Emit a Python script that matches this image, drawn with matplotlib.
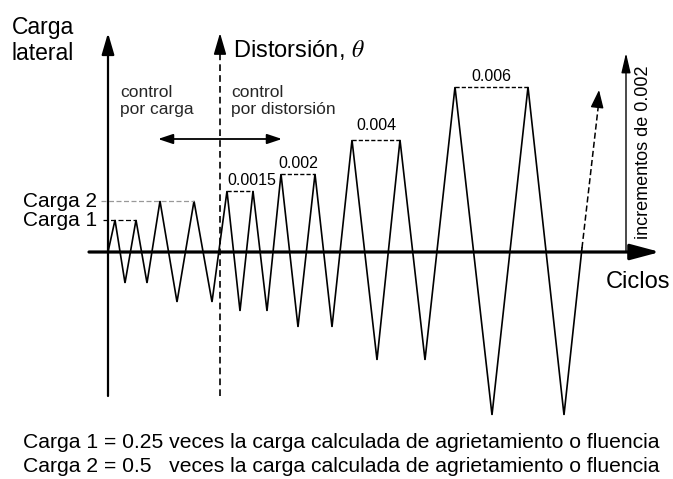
import matplotlib
matplotlib.use('Agg')
from matplotlib import pyplot as plt
from matplotlib.patches import FancyArrowPatch

plt.rcParams['font.family'] = ['Liberation Sans', 'DejaVu Sans']
plt.rcParams['mathtext.fontset'] = 'stix'

# loading history: vertex positions along the "Ciclos" axis
# and the lateral load / drift amplitude at each vertex (same arbitrary units)
wave_x = [0, 7, 17, 28, 39, 52, 69, 86, 104, 119, 132, 145, 159,
          173, 190, 207, 224, 244, 269, 292, 317, 347, 384, 420, 456, 474]
wave_y = [0, 32, -31, 32, -31, 51, -50, 51, -50, 61, -59, 61, -59,
          78, -75, 78, -75, 112, -108, 112, -108, 165, -163, 165, -163, 4]
next_cycle_tip = (491, 162)

# pairs of peaks (indices into wave_*) that share a target level
load_names = ['Carga 1', 'Carga 2']
load_peaks = [(1, 3), (5, 7)]
drift_names = ['0.0015', '0.002', '0.004', '0.006']
drift_peaks = [(9, 11), (13, 15), (17, 19), (21, 23)]

notes = ['Carga 1 = 0.25 veces la carga calculada de agrietamiento o fluencia',
         'Carga 2 = 0.5   veces la carga calculada de agrietamiento o fluencia']

fig = plt.figure(figsize=(6.73, 4.79), dpi=100)
ax = fig.add_axes([0, 0, 1, 1])
ax.set_xlim(-108, 565)
ax.set_ylim(-227, 252)
ax.axis('off')


def arrow(p0, p1, lw=1.5, hl=0.6, hw=0.2, style='-|>', ls='-'):
    a = FancyArrowPatch(p0, p1, arrowstyle='%s,head_length=%s,head_width=%s' % (style, hl, hw),
                        mutation_scale=20, shrinkA=0, shrinkB=0, color='k',
                        lw=lw, linestyle=ls)
    ax.add_patch(a)


# axes of the diagram
arrow((-19, 0), (552, 0), lw=2.3, hl=0.9, hw=0.24)
arrow((0, -144), (0, 219), lw=1.6, hl=0.65, hw=0.19)
ax.plot([112, 112], [-144, 205], color='k', lw=1.2, ls=(0, (4, 2.5)))
arrow((112, 200), (112, 219), lw=1.2, hl=0.65, hw=0.19)
arrow((518, 0), (518, 199), lw=1.0, hl=0.6, hw=0.14)
arrow((50, 113), (174, 113), lw=1.3, hl=0.45, hw=0.15, style='<|-|>')

# loading history
ax.plot(wave_x, wave_y, color='k', lw=1.2, solid_joinstyle='miter')
ax.plot([wave_x[-1], next_cycle_tip[0]], [wave_y[-1], next_cycle_tip[1] - 10],
        color='k', lw=1.1, ls=(0, (4, 2)))
arrow((next_cycle_tip[0] - 1.5, next_cycle_tip[1] - 14), next_cycle_tip,
      lw=1.0, hl=0.55, hw=0.2)

# load-controlled levels
for k, (name, (i, j)) in enumerate(zip(load_names, load_peaks)):
    lvl = wave_y[i]
    col = 'k' if k == 0 else '0.6'
    ax.plot([-5 - 2 * k, wave_x[j]], [lvl, lvl], color=col, lw=0.9, ls=(0, (4, 2)))
    ax.text(-11, lvl, name, ha='right', va='center', fontsize=15)

# drift-controlled levels
offsets = [11, 11, 15, 11]
for name, (i, j), off in zip(drift_names, drift_peaks, offsets):
    lvl = wave_y[i]
    ax.plot([wave_x[i], wave_x[j]], [lvl, lvl], color='k', lw=1.0, ls=(0, (3, 1.5)))
    if name == '0.0015':
        ax.text(wave_x[i], lvl + off, name, ha='left', va='center', fontsize=11.5)
    else:
        ax.text((wave_x[i] + wave_x[j]) / 2, lvl + off, name, ha='center',
                va='center', fontsize=11.5)

# labels
ax.text(-96, 236, 'Carga\nlateral', ha='left', va='top', fontsize=16.5, linespacing=1.15)
ax.text(125, 202, r'Distorsión, $\theta$', ha='left', va='center', fontsize=17)
ax.text(12, 151, 'control\npor carga', ha='left', va='center', fontsize=12.5,
        linespacing=1.2, color='0.15')
ax.text(123, 151, 'control\npor distorsión', ha='left', va='center', fontsize=12.5,
        linespacing=1.2, color='0.15')
ax.text(498, -30, 'Ciclos', ha='left', va='center', fontsize=17)
ax.text(535, 100, 'incrementos de 0.002', ha='center', va='center',
        rotation=90, fontsize=13)
for k, line in enumerate(notes):
    ax.text(-85, -191 - 24 * k, line, ha='left', va='center', fontsize=15.2)

fig.savefig('out.png', dpi=100, facecolor='white')
